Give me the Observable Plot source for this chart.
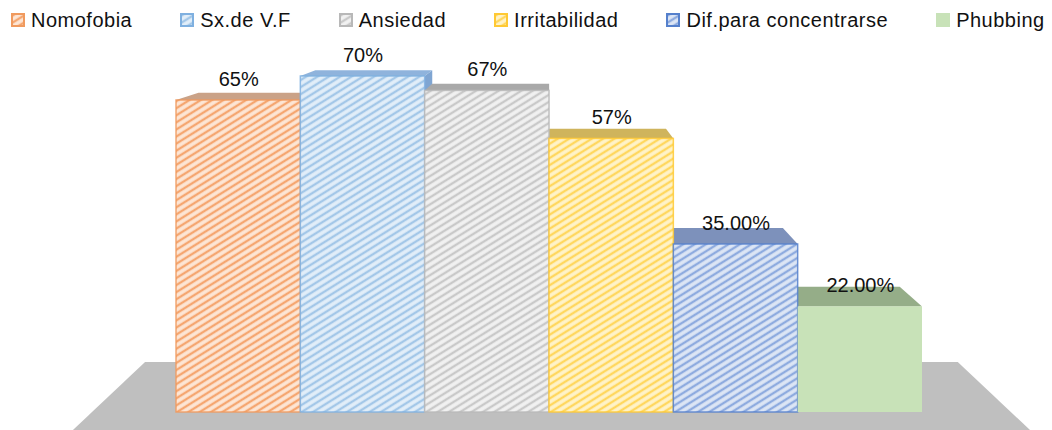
<!DOCTYPE html>
<html>
<head>
<meta charset="utf-8">
<script src="https://cdn.jsdelivr.net/npm/d3@7"></script>
<script src="https://cdn.jsdelivr.net/npm/@observablehq/plot@0.6"></script>
<style>
  body { margin: 0; background: #fff; font-family: "Liberation Sans", Arial, sans-serif; }
  #legend { display: flex; align-items: flex-start; height: 38px; width: 1052px; padding-left: 11px; box-sizing: border-box; }
  .item { display: flex; align-items: flex-start; margin-right: 48px; }
  .item svg { margin-top: 13px; margin-right: 6px; flex: none; }
  .item span { font-size: 20px; line-height: 20px; margin-top: 10px; letter-spacing: 0.5px; color: #111; white-space: pre; }
  #chart svg { display: block; }
</style>
</head>
<body>
<svg width="0" height="0" style="position:absolute"><defs id="defs"></defs></svg>
<div id="legend"></div>
<div id="chart"></div>
<script>
// ---- data ----
const categories = ["Nomofobia", "Sx.de V.F", "Ansiedad", "Irritabilidad", "Dif.para concentrarse", "Phubbing"];
const values = [65, 70, 67, 57, 35, 22];
const labels = ["65%", "70%", "67%", "57%", "35.00%", "22.00%"];

// ---- styles ----
const stripeColors = ["#f5a670", "#a3c7e8", "#c9c9c9", "#ffd75e", "#8eabdf", null];
const bgColors     = ["#fde6d5", "#e2eef9", "#f1f1f1", "#fff3c9", "#dde6f5", "#c8e2b8"];
const edgeColors   = ["#f09a5e", "#7fb0e0", "#b8b8b8", "#ffc933", "#5580cc", "none"];
const topColors    = ["#caa287", "#8fb3dc", "#a9a9a9", "#cfb45c", "#7d91bb", "#95ad88"];
const sideColors   = ["#c39a7e", "#7fa5d2", "#a0a0a0", "#c6aa50", "#7388b5", "#8aa37e"];

// ---- 3D projection (data units) ----
const VP = {x: 2.516, y: 90.2};   // vanishing point
const DEPTH = 0.06;                // bar depth as fraction toward VP
const FLOOR = {front: -5, left: -1.38, right: 6.42, depth: 0.162};
const toward = (x, y, t) => ({x: x + t * (VP.x - x), y: y + t * (VP.y - y)});

// patterns
const defs = document.getElementById("defs");
const NS = "http://www.w3.org/2000/svg";
categories.forEach((c, i) => {
  if (!stripeColors[i]) return;
  const p = document.createElementNS(NS, "pattern");
  p.setAttribute("id", "f" + i);
  p.setAttribute("width", 6); p.setAttribute("height", 6);
  p.setAttribute("patternUnits", "userSpaceOnUse");
  p.setAttribute("patternTransform", "rotate(-32)");
  const r = document.createElementNS(NS, "rect");
  r.setAttribute("width", 6); r.setAttribute("height", 6); r.setAttribute("fill", bgColors[i]);
  const l = document.createElementNS(NS, "rect");
  l.setAttribute("x", 0); l.setAttribute("y", 1.8); l.setAttribute("width", 6); l.setAttribute("height", 2.4);
  l.setAttribute("fill", stripeColors[i]);
  p.appendChild(r); p.appendChild(l);
  defs.appendChild(p);
});
const frontFill = i => stripeColors[i] ? `url(#f${i})` : bgColors[i];

// legend
const legend = document.getElementById("legend");
categories.forEach((c, i) => {
  const d = document.createElement("div");
  d.className = "item";
  const edge = edgeColors[i] === "none" ? bgColors[i] : edgeColors[i];
  d.innerHTML = `<svg width="14" height="14"><rect x="1" y="1" width="12" height="12" fill="${frontFill(i)}" stroke="${edge}" stroke-width="2"/></svg><span></span>`;
  d.querySelector("span").textContent = c;
  if (i === categories.length - 1) d.style.marginRight = "0";
  legend.appendChild(d);
});

// geometry derived from values
const idx = d3.range(categories.length);
const tops = idx.flatMap(i => {
  const v = values[i], a = toward(i - 0.5, v, DEPTH), b = toward(i + 0.5, v, DEPTH);
  return [{k: i, y: v, x1: i - 0.5, x2: i + 0.5, fill: topColors[i]},
          {k: i, y: a.y, x1: a.x, x2: b.x, fill: topColors[i]}];
});
const sides = idx.flatMap(i => {
  const v = values[i];
  const ex = (i + 0.5) < VP.x ? i + 0.5 : i - 0.5;   // visible side faces the vanishing point
  const lo = toward(ex, 0, DEPTH), hi = toward(ex, v, DEPTH);
  return [{k: i, x: ex, y1: 0, y2: v, fill: sideColors[i]},
          {k: i, x: lo.x, y1: lo.y, y2: hi.y, fill: sideColors[i]}];
});
const fl = toward(FLOOR.left, FLOOR.front, FLOOR.depth), fr = toward(FLOOR.right, FLOOR.front, FLOOR.depth);
const floor = [{y: FLOOR.front, x1: FLOOR.left, x2: FLOOR.right}, {y: fl.y, x1: fl.x, x2: fr.x}];

const chart = Plot.plot({
  width: 1052,
  height: 392,
  margin: 0,
  x: {type: "linear", domain: [-0.5, 5.5], range: [176, 922], axis: null},
  y: {type: "linear", domain: [0, 70], range: [374, 38], axis: null},
  color: {type: "identity"},
  style: {background: "transparent", fontFamily: "Liberation Sans, Arial, sans-serif"},
  marks: [
    Plot.areaX(floor, {y: "y", x1: "x1", x2: "x2", fill: "#bfbfbf"}),
    Plot.areaY(sides, {x: "x", y1: "y1", y2: "y2", z: "k", fill: "fill"}),
    Plot.areaX(tops, {y: "y", x1: "x1", x2: "x2", z: "k", fill: "fill"}),
    Plot.rect(idx, {
      x1: i => i - 0.5, x2: i => i + 0.5, y1: () => 0, y2: i => values[i],
      fill: i => frontFill(i), stroke: i => edgeColors[i], strokeWidth: 1.5, strokeOpacity: 0.85
    }),
    Plot.text(idx, {
      x: i => i, y: i => values[i], text: i => labels[i], dy: -21,
      fontSize: 20, fill: "#111", fontFamily: "Liberation Sans, Arial, sans-serif"
    })
  ]
});
document.getElementById("chart").appendChild(chart);
</script>
</body>
</html>
